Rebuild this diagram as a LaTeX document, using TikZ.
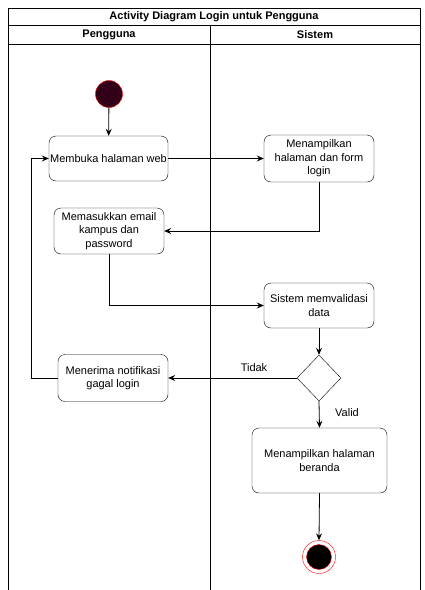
\documentclass[tikz,border=0pt]{standalone}
\usepackage{fontspec}
\setmainfont{Liberation Sans}
\usetikzlibrary{arrows.meta,shapes.geometric}
\definecolor{startfill}{HTML}{33001A}
\begin{document}
\begin{tikzpicture}[x=1pt,y=-1pt,
  txt/.style={font=\fontsize{11}{13.5}\selectfont},
  hdr/.style={font=\bfseries\fontsize{11}{13.5}\selectfont},
  act/.style={draw, rounded corners=7pt, align=center, inner sep=0pt, txt},
  flow/.style={-{Stealth[length=7pt,width=6pt,inset=2.5pt]}, line width=0.8pt},
  frame/.style={line width=0.8pt}
]
\useasboundingbox (0,0) rectangle (424,590);
% frame
\draw[frame] (8,590) -- (8,8) -- (420,8) -- (420,590);
\draw[frame] (8,25) -- (420,25);
\draw[frame] (8,44) -- (420,44);
\draw[frame] (210,25) -- (210,590);
\node[hdr] (title) at (214,16.5) {Activity Diagram Login untuk Pengguna};
\node[hdr] (lane1) at (109,34.5) {Pengguna};
\node[hdr] (lane2) at (315,34.5) {Sistem};
% nodes
\node[circle, draw=red, fill=startfill, minimum size=27pt, inner sep=0pt] (start) at (109,94) {};
\node[act, minimum width=119pt, minimum height=45pt] (b1) at (108.5,158.5) {Membuka halaman web};
\node[act, minimum width=110pt, minimum height=47pt] (b2) at (319,158.5) {Menampilkan\\halaman dan form\\login};
\node[act, minimum width=110pt, minimum height=46pt] (b3) at (109,231) {Memasukkan email\\kampus dan\\password};
\node[act, minimum width=110pt, minimum height=45pt] (b4) at (319,305.5) {Sistem memvalidasi\\data};
\node[diamond, draw, aspect=1, minimum width=44pt, minimum height=46pt, inner sep=0pt] (dec) at (319,378) {};
\node[act, minimum width=110pt, minimum height=47pt] (b5) at (113,378) {Menerima notifikasi\\gagal login};
\node[act, minimum width=135pt, minimum height=65pt] (b6) at (319.5,460.5) {Menampilkan halaman\\beranda};
\node[circle, draw=red, fill=white, minimum size=33pt, inner sep=0pt] (end) at (319,557) {};
\node[circle, draw=red, fill=black, minimum size=25pt, inner sep=0pt] (endin) at (end) {};
\coordinate (loop) at (31,378);
% edges
\draw[flow] (start) -- (b1);
\draw[flow] (b1) -- (b2);
\draw[flow] (b2.south) |- (b3.east);
\draw[flow] (b3.south) |- (b4.west);
\draw[flow] (b4) -- (dec);
\draw[flow] (dec.west) -- (b5.east);
\draw[flow] (b5.west) -- (loop) |- (b1.west);
\draw[flow] (dec.south) -- (b6.north);
\draw[flow] (b6.south) -- (end.north);
\node[txt] (tidak) at (254,368) {Tidak};
\node[txt] (valid) at (347,413) {Valid};
\end{tikzpicture}
\end{document}
